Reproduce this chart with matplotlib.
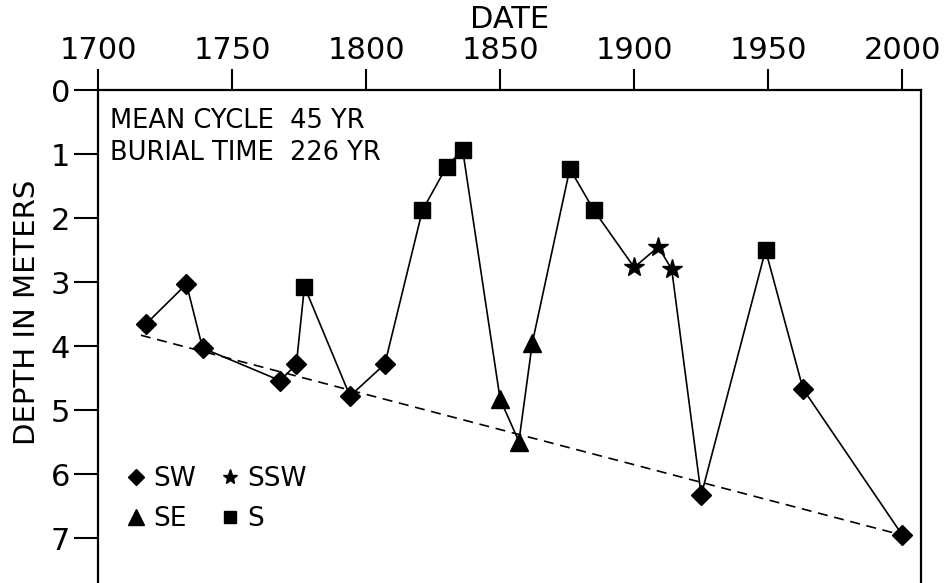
import matplotlib
matplotlib.use("Agg")
import matplotlib.pyplot as plt
from matplotlib.lines import Line2D

plt.rcParams['font.family'] = ['DejaVu Sans']

# sample dates, depths and dune direction
years = [1718, 1733, 1739, 1768, 1774, 1777, 1794, 1807, 1821, 1830, 1836,
         1850, 1857, 1862, 1876, 1885, 1900, 1909, 1914, 1925, 1949, 1963, 2000]
depths = [3.65, 3.03, 4.03, 4.54, 4.28, 3.07, 4.78, 4.28, 1.88, 1.20, 0.93,
          4.83, 5.49, 3.95, 1.23, 1.88, 2.77, 2.45, 2.80, 6.33, 2.50, 4.67, 6.95]
direction = ['SW', 'SW', 'SW', 'SW', 'SW', 'S', 'SW', 'SW', 'S', 'S', 'S',
             'SE', 'SE', 'SE', 'S', 'S', 'SSW', 'SSW', 'SSW', 'SW', 'S', 'SW', 'SW']

# burial trend line
trend_years = [1716, 1998]
trend_depths = [3.83, 6.93]

markers = {'SW': ('D', 10), 'SSW': ('*', 15), 'SE': ('^', 13), 'S': ('s', 12)}
legend_ms = {'SW': 8, 'SSW': 11, 'SE': 11, 'S': 9}

fig = plt.figure(figsize=(9.46, 5.83), dpi=100)
ax = fig.add_axes([0.1036, 0.0, 0.8700, 0.8456])

ax.plot(years, depths, color='black', lw=1.2, zorder=2)
ax.plot(trend_years, trend_depths, color='black', lw=1.2, ls=(0, (6, 4)), zorder=1)

for d in ['SW', 'SSW', 'SE', 'S']:
    xs = [y for y, k in zip(years, direction) if k == d]
    ys = [z for z, k in zip(depths, direction) if k == d]
    m, s = markers[d]
    ax.plot(xs, ys, ls='none', marker=m, ms=s, color='black', zorder=3)

ax.set_xlim(1700, 2007)
ax.set_ylim(7.7, 0)
ax.set_xticks([1700, 1750, 1800, 1850, 1900, 1950, 2000])
ax.set_yticks([0, 1, 2, 3, 4, 5, 6, 7])

ax.xaxis.tick_top()
ax.xaxis.set_label_position('top')
ax.tick_params(axis='x', direction='out', length=15, width=1.5, pad=3, labelsize=22)
ax.tick_params(axis='y', direction='out', length=17, width=1.5, pad=3, labelsize=22)
ax.spines['bottom'].set_visible(False)
for s in ['top', 'left', 'right']:
    ax.spines[s].set_linewidth(1.6)

ax.set_xlabel('DATE', fontsize=22)
ax.xaxis.set_label_coords(0.5, 1.144)
ax.xaxis.label.set_va('center')
ax.set_ylabel('DEPTH IN METERS', fontsize=21)
ax.yaxis.set_label_coords(-0.069, 0.55)

ax.text(0.014, 0.938, 'MEAN CYCLE  45 YR', transform=ax.transAxes, fontsize=18.5, va='center')
ax.text(0.014, 0.873, 'BURIAL TIME  226 YR', transform=ax.transAxes, fontsize=18.5, va='center')

handles = [Line2D([], [], ls='none', marker=markers[k][0], ms=legend_ms[k], color='black')
           for k in ['SW', 'SE', 'SSW', 'S']]
ax.legend(handles, ['SW', 'SE', 'SSW', 'S'], ncol=2, frameon=False, fontsize=19,
          loc='lower left', bbox_to_anchor=(0.004, 0.06), handletextpad=0.15,
          handlelength=1.0, columnspacing=0.8, labelspacing=0.55, borderpad=0.3)

fig.savefig('out.png', dpi=100)
